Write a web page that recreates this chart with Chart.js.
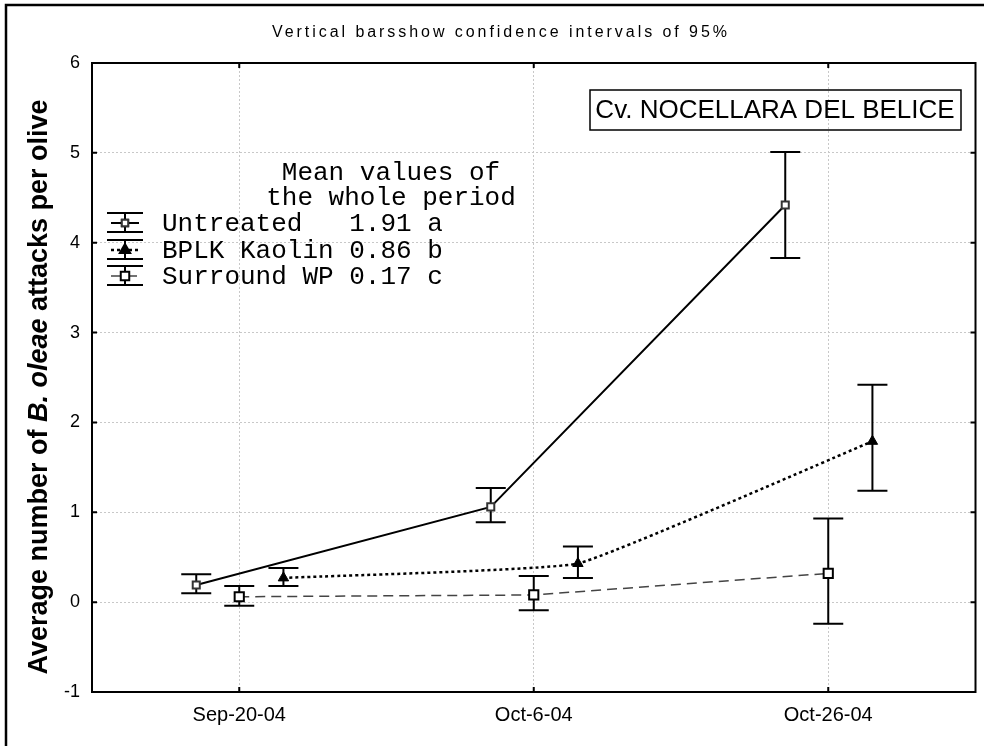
<!DOCTYPE html>
<html>
<head>
<meta charset="utf-8">
<title>B. oleae attacks</title>
<script src="https://cdn.jsdelivr.net/npm/chart.js@4.4.1/dist/chart.umd.min.js"></script>
<style>
  body { margin: 0; background: #fff; }
  #wrap { width: 984px; height: 746px; position: relative; }
</style>
</head>
<body>
<div id="wrap"><canvas id="olive"></canvas></div>
<script>
// sampling dates
const categories = ["Sep-20-04", "Oct-6-04", "Oct-26-04"];
const yTicks = [-1, 0, 1, 2, 3, 4, 5, 6];

// means and 95% limits
const untreatedMean = [0.19, 1.06, 4.42];
const untreatedLow  = [0.10, 0.89, 3.83];
const untreatedHigh = [0.31, 1.27, 5.01];

const kaolinMean = [0.27, 0.43, 1.79];
const kaolinLow  = [0.18, 0.27, 1.24];
const kaolinHigh = [0.38, 0.62, 2.42];

const surroundMean = [0.06, 0.08, 0.32];
const surroundLow  = [-0.04, -0.09, -0.24];
const surroundHigh = [0.18, 0.29, 0.93];

// legend text
const seriesNames = ["Untreated", "BPLK Kaolin", "Surround WP"];
const periodMeans = ["1.91", "0.86", "0.17"];
const periodGroups = ["a", "b", "c"];

const sans = "'Liberation Sans', Arial, sans-serif";
const mono = "'Liberation Mono', 'Courier New', monospace";

// each series sits a bit off the date so the bars don't overlap
function points(means, shift) {
    return means.map((v, i) => ({ x: i + shift, y: v }));
}

const series = [
    { mean: untreatedMean, low: untreatedLow, high: untreatedHigh, shift: -0.146 },
    { mean: kaolinMean, low: kaolinLow, high: kaolinHigh, shift: 0.15 },
    { mean: surroundMean, low: surroundLow, high: surroundHigh, shift: 0 }
];

const datasets = [
    {
        label: seriesNames[0],
        data: points(untreatedMean, series[0].shift),
        showLine: true,
        borderColor: "#000",
        borderWidth: 2,
        pointStyle: "rect",
        pointRadius: 5,
        pointBorderWidth: 2,
        pointBorderColor: "#333",
        pointBackgroundColor: "#fff"
    },
    {
        label: seriesNames[1],
        data: points(kaolinMean, series[1].shift),
        showLine: true,
        borderColor: "#000",
        borderWidth: 2.5,
        borderDash: [3, 3],
        tension: 0.1,
        pointStyle: "triangle",
        pointRadius: 6,
        pointBorderWidth: 1,
        pointBorderColor: "#000",
        pointBackgroundColor: "#000"
    },
    {
        label: seriesNames[2],
        data: points(surroundMean, series[2].shift),
        showLine: true,
        borderColor: "#444",
        borderWidth: 1.5,
        borderDash: [10, 6],
        pointStyle: "rect",
        pointRadius: 6.5,
        pointBorderWidth: 2,
        pointBorderColor: "#000",
        pointBackgroundColor: "#fff"
    }
];

// confidence interval whiskers
const errorBars = {
    id: "errorBars",
    beforeDatasetsDraw(chart) {
        const ctx = chart.ctx;
        const xs = chart.scales.x, ys = chart.scales.y;
        ctx.save();
        ctx.strokeStyle = "#000";
        ctx.lineWidth = 2;
        series.forEach(s => {
            s.mean.forEach((m, i) => {
                const px = xs.getPixelForValue(i + s.shift);
                const top = ys.getPixelForValue(s.high[i]);
                const bot = ys.getPixelForValue(s.low[i]);
                ctx.beginPath();
                ctx.moveTo(px, top); ctx.lineTo(px, bot);
                ctx.moveTo(px - 15, top); ctx.lineTo(px + 15, top);
                ctx.moveTo(px - 15, bot); ctx.lineTo(px + 15, bot);
                ctx.stroke();
            });
        });
        ctx.restore();
    }
};

// frame, inner ticks, texts and the legend
const decorations = {
    id: "decorations",
    afterDraw(chart) {
        const ctx = chart.ctx;
        const a = chart.chartArea;
        const xs = chart.scales.x, ys = chart.scales.y;
        ctx.save();

        // outer picture frame (only top and left visible)
        ctx.strokeStyle = "#000";
        ctx.lineWidth = 2.5;
        ctx.beginPath();
        ctx.moveTo(6, 760); ctx.lineTo(6, 5); ctx.lineTo(990, 5);
        ctx.stroke();

        // plot box
        ctx.lineWidth = 2;
        ctx.strokeRect(a.left, a.top, a.right - a.left, a.bottom - a.top);

        // tick marks pointing inward on all four sides
        ctx.beginPath();
        categories.forEach((c, i) => {
            const px = xs.getPixelForValue(i);
            ctx.moveTo(px, a.bottom); ctx.lineTo(px, a.bottom - 5);
            ctx.moveTo(px, a.top); ctx.lineTo(px, a.top + 5);
        });
        yTicks.forEach(v => {
            const py = ys.getPixelForValue(v);
            ctx.moveTo(a.left, py); ctx.lineTo(a.left + 5, py);
            ctx.moveTo(a.right, py); ctx.lineTo(a.right - 5, py);
        });
        ctx.stroke();

        // top note, stretched like the original
        const note = "Vertical barsshow confidence intervals of 95%";
        ctx.fillStyle = "#000";
        ctx.font = "16px " + sans;
        ctx.textBaseline = "middle";
        ctx.textAlign = "left";
        const w0 = ctx.measureText(note).width;
        ctx.letterSpacing = ((455 - w0) / (note.length - 1)) + "px";
        ctx.fillText(note, 272, 33);
        ctx.letterSpacing = "0px";

        // y axis title with the italic species name
        const parts = [
            ["Average number of ", "bold 27px " + sans],
            ["B. oleae", "italic bold 27px " + sans],
            [" attacks per olive", "bold 27px " + sans]
        ];
        let total = 0;
        parts.forEach(p => { ctx.font = p[1]; total += ctx.measureText(p[0]).width; });
        ctx.save();
        ctx.translate(40, 387);
        ctx.rotate(-Math.PI / 2);
        let tx = -total / 2;
        parts.forEach(p => {
            ctx.font = p[1];
            ctx.fillText(p[0], tx, 0);
            tx += ctx.measureText(p[0]).width;
        });
        ctx.restore();

        // cultivar box
        ctx.font = "26px " + sans;
        ctx.textAlign = "center";
        ctx.fillText("Cv. NOCELLARA DEL BELICE", 775, 111);
        ctx.lineWidth = 1.5;
        ctx.strokeRect(590, 90, 371, 40);

        // legend
        ctx.font = "26px " + mono;
        ctx.textAlign = "center";
        ctx.fillText("Mean values of", 391, 173);
        ctx.fillText("the whole period", 391, 198);
        ctx.textAlign = "left";
        const rows = [224, 251, 277];
        seriesNames.forEach((name, i) => {
            const y = rows[i];
            ctx.fillStyle = "#000";
            ctx.fillText(name.padEnd(12, " ") + periodMeans[i] + " " + periodGroups[i], 162, y);

            const cx = 125;
            const ds = datasets[i];
            ctx.strokeStyle = "#000";
            ctx.lineWidth = 2;
            ctx.setLineDash([]);
            ctx.beginPath();
            ctx.moveTo(cx - 18, y - 11); ctx.lineTo(cx + 18, y - 11);
            ctx.moveTo(cx - 18, y + 8); ctx.lineTo(cx + 18, y + 8);
            ctx.moveTo(cx, y - 11); ctx.lineTo(cx, y + 8);
            ctx.stroke();

            ctx.strokeStyle = ds.borderColor;
            ctx.lineWidth = ds.borderWidth;
            ctx.setLineDash(ds.borderDash || []);
            ctx.beginPath();
            ctx.moveTo(cx - 14, y - 1); ctx.lineTo(cx + 14, y - 1);
            ctx.stroke();
            ctx.setLineDash([]);

            Chart.helpers.drawPoint(ctx, {
                pointStyle: ds.pointStyle,
                radius: ds.pointRadius - 0.5,
                borderWidth: ds.pointBorderWidth,
                rotation: 0
            }, cx, y - 1);
            ctx.fillStyle = ds.pointBackgroundColor;
            ctx.strokeStyle = ds.pointBorderColor;
            ctx.lineWidth = ds.pointBorderWidth;
            ctx.fill();
            ctx.stroke();
        });

        ctx.restore();
    }
};

new Chart(document.getElementById("olive"), {
    type: "scatter",
    data: { datasets: datasets },
    plugins: [errorBars, decorations],
    options: {
        responsive: true,
        maintainAspectRatio: false,
        animation: false,
        devicePixelRatio: 1,
        layout: { padding: { top: 63, right: 7, left: 0, bottom: 0 } },
        plugins: {
            legend: { display: false },
            tooltip: { enabled: false }
        },
        scales: {
            x: {
                type: "linear",
                min: -0.5,
                max: 2.5,
                afterBuildTicks: s => { s.ticks = categories.map((c, i) => ({ value: i })); },
                afterFit: s => { s.height = 54; },
                grid: { color: "#c8c8c8", lineWidth: 1, drawTicks: false },
                border: { display: false, dash: [2, 2] },
                ticks: {
                    color: "#000",
                    padding: 11,
                    font: { size: 20, family: sans },
                    callback: v => categories[v]
                }
            },
            y: {
                min: -1,
                max: 6,
                afterBuildTicks: s => { s.ticks = yTicks.map(v => ({ value: v })); },
                afterFit: s => { s.width = 92; },
                grid: { color: "#c8c8c8", lineWidth: 1, drawTicks: false },
                border: { display: false, dash: [2, 2] },
                ticks: {
                    color: "#000",
                    padding: 12,
                    font: { size: 18, family: sans }
                }
            }
        }
    }
});
</script>
</body>
</html>
